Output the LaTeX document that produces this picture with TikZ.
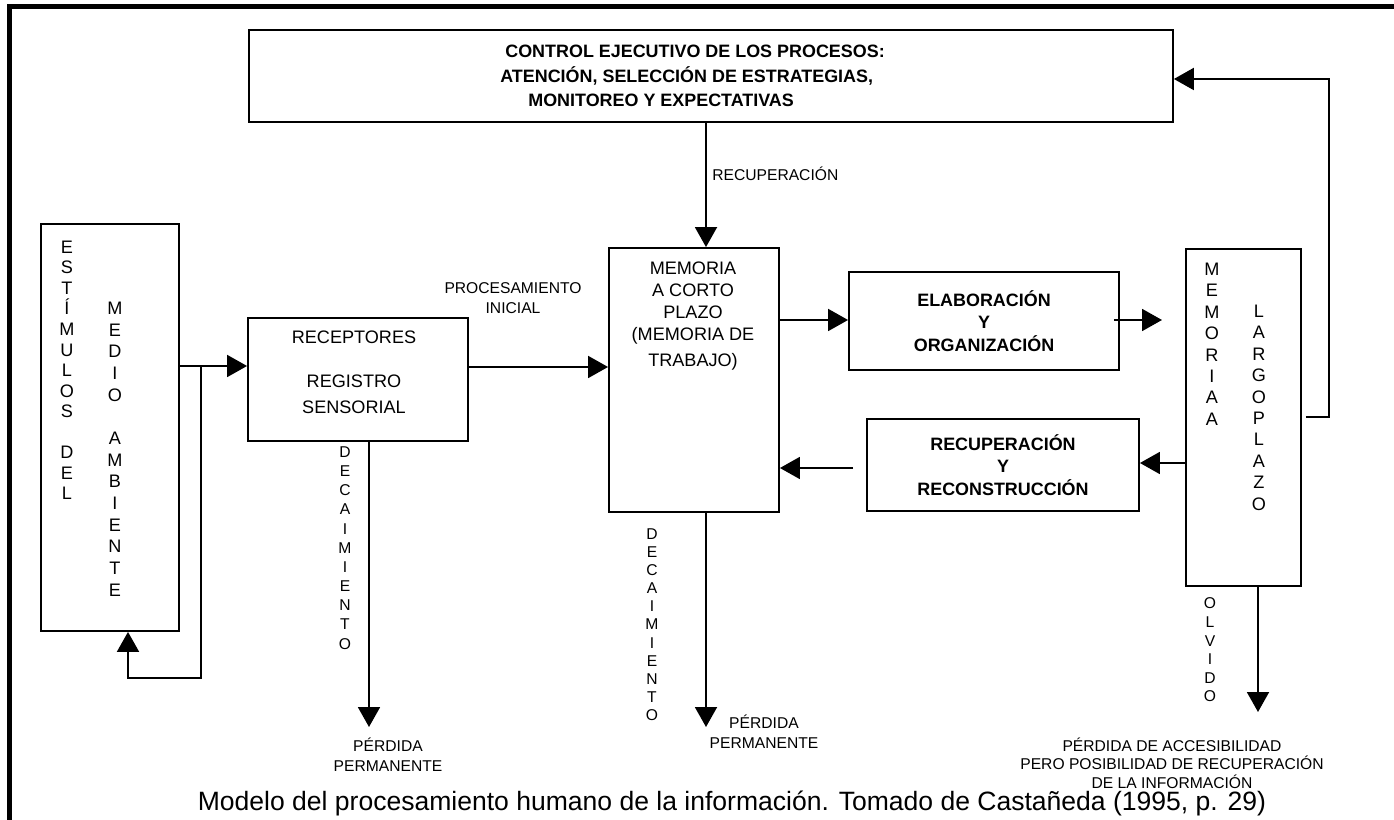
\documentclass[tikz,border=0pt]{standalone}
\usepackage{fontspec}
\setmainfont{Liberation Sans}
\usepackage{tikz}
\usetikzlibrary{arrows.meta}

\begin{document}
\begin{tikzpicture}[x=0.02cm, y=-0.02cm,
    blk/.style={draw, line width=1.1pt, inner sep=0pt},
    flow/.style={line width=1.1pt, -{Triangle[length=4mm, width=4.4mm]}},
    txt/.style={font=\fontsize{10.3}{12.5}\selectfont, align=center, inner sep=0pt},
    btxt/.style={font=\fontsize{10.2}{12.7}\selectfont\bfseries, align=center},
    sml/.style={font=\fontsize{8.9}{10.6}\selectfont, align=center, inner sep=0pt},
    pml/.style={font=\fontsize{8.9}{11.4}\selectfont, align=center, inner sep=0pt},
    col/.style={font=\fontsize{10.3}{12}\selectfont, align=center, inner sep=0pt, anchor=north}
]
    \useasboundingbox (0,0) rectangle (1394,820);
    \draw[line width=2.3pt] (9.5,820) -- (9.5,6.5) -- (1394,6.5);

    % boxes
    \node[blk, minimum width=18.48cm, minimum height=1.84cm] (ctrl) at (711,76) {};
    \node[btxt, font=\fontsize{10.2}{14}\selectfont\bfseries, align=left, inner sep=0pt, anchor=west] (ctrltxt) at (500,76)
        {\hspace*{0.1cm}CONTROL EJECUTIVO DE LOS PROCESOS:\\ATENCIÓN, SELECCIÓN DE ESTRATEGIAS,\\\hspace*{0.56cm}MONITOREO Y EXPECTATIVAS};

    \node[blk, minimum width=2.76cm, minimum height=8.14cm] (est) at (110,427.5) {};
    \node[col, font=\fontsize{10.3}{11.7}\selectfont] (estA) at (67,240.5)
        {E\\S\\T\\Í\\M\\U\\L\\O\\S\\[11.7pt]D\\E\\L};
    \node[col, font=\fontsize{10.3}{12.35}\selectfont] (estB) at (115,301.5)
        {M\\E\\D\\I\\O\\[12.35pt]A\\M\\B\\I\\E\\N\\T\\E};

    \node[blk, minimum width=4.4cm, minimum height=2.46cm] (rec) at (358,379.5) {};
    \node[txt, anchor=north] (rectxt) at (354,330.5) {RECEPTORES\\[12.5pt]REGISTRO\\[2.3pt]SENSORIAL};

    \node[blk, minimum width=3.4cm, minimum height=5.28cm] (mcp) at (694,380) {};
    \node[txt, anchor=north] (mcptxt) at (693,261.5)
        {MEMORIA\\A CORTO\\PLAZO\\(MEMORIA DE\\[2.3pt]TRABAJO)};

    \node[blk, btxt, minimum width=5.4cm, minimum height=1.96cm] (elab) at (984,321)
        {ELABORACIÓN\\Y\\ORGANIZACIÓN};
    \node[blk, btxt, minimum width=5.44cm, minimum height=1.84cm] (rr) at (1003,465)
        {RECUPERACIÓN\\Y\\RECONSTRUCCIÓN};

    \node[blk, minimum width=2.3cm, minimum height=6.74cm] (mlp) at (1243.5,417.5) {};
    \node[col, font=\fontsize{10.3}{12.2}\selectfont] (mlpA) at (1212,262.5)
        {M\\E\\M\\O\\R\\I\\A\\A};
    \node[col, font=\fontsize{10.3}{12.2}\selectfont] (mlpB) at (1259,304.5)
        {L\\A\\R\\G\\O\\P\\L\\A\\Z\\O};

    % labels
    \node[sml, anchor=west] (recup) at (712,174) {RECUPERACIÓN};
    \node[pml] (proc) at (513,298) {PROCESAMIENTO\\INICIAL};
    \node[sml, font=\fontsize{8.9}{10.9}\selectfont, anchor=north] (dec1) at (345,446.4) {D\\E\\C\\A\\I\\M\\I\\E\\N\\T\\O};
    \node[sml, font=\fontsize{8.9}{10.3}\selectfont, anchor=north] (dec2) at (652,528.4) {D\\E\\C\\A\\I\\M\\I\\E\\N\\T\\O};
    \node[sml, anchor=north] (olv) at (1210,597.5) {O\\L\\V\\I\\D\\O};
    \node[pml] (perd1) at (388,755) {PÉRDIDA\\PERMANENTE};
    \node[pml] (perd2) at (764,732) {PÉRDIDA\\PERMANENTE};
    \node[sml] (perd3) at (1172,763)
        {PÉRDIDA DE ACCESIBILIDAD\\PERO POSIBILIDAD DE RECUPERACIÓN\\DE LA INFORMACIÓN};
    \node[font=\fontsize{15.1}{17}\selectfont, inner sep=0pt] (cap) at (732,803)
        {Modelo del procesamiento humano de la información. Tomado de Castañeda (1995, p. 29)};

    % connectors
    \coordinate (j1) at (201,366);
    \coordinate (j2) at (128,678);
    \coordinate (p1) at (369,727);
    \coordinate (m1) at (706,727);
    \coordinate (e1) at (1162,320);
    \coordinate (r1) at (853,468);
    \coordinate (c1) at (1329,79);
    \coordinate (o1) at (1258,712);

    \draw[flow] (est.east |- j1) -- (rec.west |- j1);
    \draw[flow] (j1) |- (j2) -- (est.south -| j2);
    \draw[flow] (rec.east |- 0,367) -- (mcp.west |- 0,367);
    \draw[flow] (rec.south -| p1) -- (p1);
    \draw[flow] (ctrl.south -| m1) -- (mcp.north -| m1);
    \draw[flow] (mcp.south -| m1) -- (m1);
    \draw[flow] (mcp.east |- e1) -- (elab.west |- e1);
    \draw[flow] ([xshift=-0.12cm]elab.east |- e1) -- (e1);
    \draw[flow] (mlp.west |- 0,463) -- (rr.east |- 0,463);
    \draw[flow] (r1) -- (mcp.east |- r1);
    \draw[flow] ([xshift=0.08cm]mlp.east |- 0,417) -| (c1) -- (ctrl.east |- c1);
    \draw[flow] (mlp.south -| o1) -- (o1);
\end{tikzpicture}
\end{document}
